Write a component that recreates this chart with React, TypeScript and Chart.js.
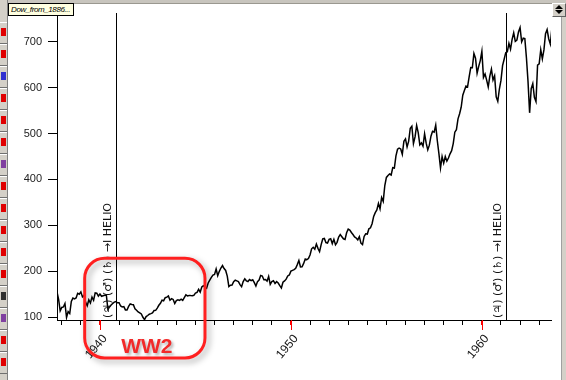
import React, { useEffect, useRef } from "react";
import { Chart, registerables } from "chart.js";

Chart.register(...registerables);

// ---- data ----
// Dow Jones Industrial monthly closes, Sep 1937 .. Aug 1963
const START_YEAR = 1937;
const START_MONTH = 9; // September (end-of-month dates)
const dowMonthlyClose = [
  // 1937 Sep-Dec
  154.6, 138.6, 113.5, 120.9,
  // 1938
  121.9, 129.6, 99.0, 111.7, 107.7, 133.9, 141.2, 139.3, 141.5, 151.7, 149.8, 154.8,
  // 1939
  143.8, 147.3, 131.8, 124.5, 137.4, 130.6, 143.3, 136.6, 152.5, 151.9, 145.7, 150.0,
  // 1940
  145.3, 146.5, 147.5, 148.4, 116.2, 121.9, 126.1, 129.6, 132.6, 133.8, 131.0, 131.1,
  // 1941
  124.1, 122.0, 122.7, 115.5, 115.3, 123.1, 128.8, 127.4, 126.8, 117.8, 114.7, 111.0,
  // 1942
  109.1, 106.6, 99.5, 94.4, 100.9, 103.3, 106.2, 107.5, 109.1, 114.1, 114.5, 119.4,
  // 1943
  125.6, 130.0, 136.6, 135.5, 142.1, 143.4, 145.8, 136.6, 140.1, 138.3, 129.6, 135.9,
  // 1944
  137.4, 136.3, 138.8, 136.2, 142.2, 148.4, 146.1, 147.0, 146.7, 146.5, 147.3, 152.3,
  // 1945
  153.7, 160.4, 154.4, 165.4, 168.3, 165.3, 162.9, 174.3, 180.5, 186.6, 191.5, 192.9,
  // 1946
  204.7, 190.1, 199.6, 206.8, 212.3, 205.6, 201.6, 189.2, 166.4, 169.2, 169.8, 177.2,
  // 1947
  180.4, 178.9, 177.2, 170.6, 166.3, 177.3, 183.2, 178.9, 177.5, 181.8, 179.4, 181.2,
  // 1948
  175.1, 167.4, 177.2, 180.5, 190.7, 189.5, 181.3, 181.7, 178.3, 188.6, 171.2, 177.3,
  // 1949
  179.1, 173.1, 177.1, 174.2, 168.4, 163.4, 175.9, 178.7, 182.5, 189.5, 191.6, 200.1,
  // 1950
  201.8, 203.4, 206.1, 214.3, 223.4, 209.1, 209.4, 216.9, 226.4, 225.0, 227.6, 235.4,
  // 1951
  248.8, 252.1, 247.9, 259.1, 249.7, 242.6, 257.9, 270.3, 271.2, 262.4, 261.3, 269.2,
  // 1952
  270.7, 260.1, 269.5, 257.6, 262.9, 274.3, 279.6, 275.0, 270.6, 269.2, 283.7, 291.9,
  // 1953
  289.8, 284.3, 279.9, 274.8, 272.3, 268.3, 275.4, 261.2, 258.0, 275.8, 281.4, 280.9,
  // 1954
  292.4, 294.5, 303.5, 319.3, 327.5, 333.5, 347.9, 335.8, 360.5, 352.1, 386.8, 404.4,
  // 1955
  408.8, 411.9, 409.7, 425.7, 424.9, 451.4, 465.9, 468.2, 466.6, 454.9, 483.3, 488.4,
  // 1956
  470.7, 483.7, 511.8, 516.1, 478.1, 492.8, 517.8, 502.0, 475.3, 479.9, 472.8, 499.5,
  // 1957
  479.2, 464.6, 474.8, 494.4, 504.9, 503.3, 518.5, 484.4, 456.3, 425.0, 449.9, 435.7,
  // 1958
  450.0, 439.9, 446.8, 455.9, 462.7, 478.2, 503.0, 508.6, 532.1, 543.2, 557.5, 583.7,
  // 1959
  594.0, 603.5, 601.7, 623.8, 643.8, 643.6, 674.9, 664.4, 631.7, 646.6, 659.2, 679.4,
  // 1960
  622.6, 630.1, 616.6, 601.7, 625.5, 640.6, 616.7, 626.0, 580.1, 570.4, 597.2, 615.9,
  // 1961
  648.2, 662.1, 676.6, 678.7, 696.7, 684.0, 705.4, 719.9, 701.2, 703.9, 721.6, 731.1,
  // 1962
  700.0, 708.1, 707.0, 665.3, 613.4, 545.3, 597.9, 609.2, 579.0, 569.8, 649.3, 652.1,
  // 1963
  682.9, 662.9, 682.5, 717.7, 727.0, 706.9, 695.4, 729.3,
];

const yTickValues = [100, 200, 300, 400, 500, 600, 700];
const xDecadeLabels = [1940, 1950, 1960];
const heliocentricDates = [1940.85, 1961.27];
const heliocentricLabel = "(\u2643) (\u2642) (\u2644) \u2192I HELIO";
const ww2Span = [1939.2, 1945.5];
const ww2TopValue = 228;
const ww2Text = "WW2";
const tooltipText = "Dow_from_1886...";

const X_MIN = 1937.75;
const X_MAX = 1963.62;
const Y_MIN = 93.5;
const Y_MAX = 763;

const FONT = '"Liberation Sans", Arial, "DejaVu Sans", sans-serif';

const annotationPlugin = {
  id: "helioAnnotations",
  afterDraw(chart: any) {
    const { ctx, chartArea, scales } = chart;
    const x = scales.x;
    ctx.save();
    // longer red decade ticks
    ctx.strokeStyle = "#ff0000";
    ctx.lineWidth = 1;
    xDecadeLabels.forEach((d) => {
      const px = Math.round(x.getPixelForValue(d)) + 0.5;
      ctx.beginPath();
      ctx.moveTo(px, chartArea.bottom);
      ctx.lineTo(px, chartArea.bottom + 10);
      ctx.stroke();
    });
    // heliocentric event lines + labels
    heliocentricDates.forEach((d) => {
      const px = Math.round(x.getPixelForValue(d)) + 0.5;
      ctx.strokeStyle = "#000";
      ctx.lineWidth = 1;
      ctx.beginPath();
      ctx.moveTo(px, chartArea.top);
      ctx.lineTo(px, chartArea.bottom);
      ctx.stroke();
      ctx.save();
      ctx.translate(px - 8.5, chartArea.bottom - 2);
      ctx.rotate(-Math.PI / 2);
      ctx.font = '11px "DejaVu Sans", sans-serif';
      ctx.fillStyle = "#111";
      ctx.textAlign = "left";
      ctx.textBaseline = "middle";
      ctx.fillText(heliocentricLabel, 0, 0);
      ctx.restore();
    });
    // WW2 rounded box
    const left = x.getPixelForValue(ww2Span[0]);
    const right = x.getPixelForValue(ww2Span[1]);
    const top = scales.y.getPixelForValue(ww2TopValue);
    const bottom = chartArea.bottom + 38;
    const r = 20;
    ctx.save();
    ctx.shadowColor = "rgba(0,0,0,0.35)";
    ctx.shadowBlur = 6;
    ctx.shadowOffsetX = 3;
    ctx.shadowOffsetY = 3;
    ctx.strokeStyle = "#ff1f1f";
    ctx.lineWidth = 3;
    ctx.beginPath();
    ctx.roundRect(left, top, right - left, bottom - top, r);
    ctx.stroke();
    ctx.font = "bold 21px " + FONT;
    ctx.fillStyle = "#f22a2a";
    ctx.textAlign = "center";
    ctx.textBaseline = "alphabetic";
    ctx.shadowBlur = 3;
    ctx.shadowOffsetX = 2;
    ctx.shadowOffsetY = 2;
    ctx.shadowColor = "rgba(0,0,0,0.3)";
    ctx.fillText(ww2Text, (left + right) / 2 + 2, bottom - 5);
    ctx.restore();
    ctx.restore();
  },
};

function DowChart() {
  const ref = useRef<HTMLCanvasElement | null>(null);
  useEffect(() => {
    if (!ref.current) return;
    const points = dowMonthlyClose.map((v, i) => ({
      x: START_YEAR + (START_MONTH + i) / 12,
      y: v,
    }));
    const chart = new Chart(ref.current, {
      type: "line",
      data: {
        datasets: [
          {
            data: points,
            borderColor: "#000",
            borderWidth: 1.5,
            pointRadius: 0,
            tension: 0,
            fill: false,
          },
        ],
      },
      options: {
        responsive: false,
        animation: false,
        parsing: false,
        normalized: true,
        layout: { padding: { top: 13, right: 15, left: 0, bottom: 0 } },
        plugins: {
          legend: { display: false },
          tooltip: { enabled: false },
        },
        scales: {
          x: {
            type: "linear",
            min: X_MIN,
            max: X_MAX,
            grid: {
              drawOnChartArea: false,
              tickLength: 5,
              tickColor: (c: any) =>
                c.tick && xDecadeLabels.includes(Math.round(c.tick.value)) ? "#ff0000" : "#000",
            },
            border: { color: "#000", width: 1 },
            ticks: {
              stepSize: 1,
              autoSkip: false,
              includeBounds: false,
              minRotation: 50,
              maxRotation: 50,
              padding: 7,
              labelOffset: 5,
              color: "#111",
              font: { family: FONT, size: 12 },
              callback: (v: any) => (xDecadeLabels.includes(Math.round(v)) ? String(Math.round(v)) : ""),
            },
            afterFit: (s: any) => {
              s.height = 60;
              s.paddingLeft = 0;
              s.paddingRight = 0;
            },
          },
          y: {
            type: "linear",
            min: Y_MIN,
            max: Y_MAX,
            grid: { drawOnChartArea: false, tickLength: 9, tickColor: "#000" },
            border: { color: "#000", width: 1 },
            afterBuildTicks: (s: any) => {
              s.ticks = yTickValues.map((v) => ({ value: v }));
            },
            ticks: {
              padding: 6,
              color: "#222",
              font: { family: FONT, size: 11 },
            },
            afterFit: (s: any) => {
              s.width = 57;
              s.paddingTop = 0;
              s.paddingBottom = 0;
            },
          },
        },
      },
      plugins: [annotationPlugin],
    });
    return () => chart.destroy();
  }, []);
  return <canvas ref={ref} width={566} height={380} style={{ position: "absolute", left: 0, top: 0 }} />;
}

const toolbarIcons = ["#e00000", "#e00000", "#3030d0", "#e00000", "#e00000", "#e00000", "#8040a0", "#e00000", "#e00000", "#e00000", "#e00000", "#e00000", "#303030", "#8040a0", "#e00000", "#e00000"];

export default function App() {
  return (
    <div style={{ position: "absolute", left: 0, top: 0, width: 566, height: 380, background: "#fff", overflow: "hidden" }}>
      <DowChart />
      {/* top strip */}
      <div style={{ position: "absolute", left: 0, top: 0, width: 566, height: 3, background: "#c8c5be", borderBottom: "1px solid #9a9890" }} />
      {/* left toolbar */}
      <div style={{ position: "absolute", left: 0, top: 0, width: 7, height: 380, background: "#d4d0c8", borderRight: "1px solid #808080" }}>
        {toolbarIcons.map((c, i) => (
          <div key={i} style={{ position: "absolute", left: 0, top: 22 + i * 22, width: 7, height: 20, borderTop: "1px solid #fff", borderBottom: "1px solid #707070" }}>
            <div style={{ position: "absolute", left: 1, top: 5, width: 5, height: 8, background: c }} />
          </div>
        ))}
      </div>
      {/* right scrollbar */}
      <div style={{ position: "absolute", left: 561, top: 16, width: 5, height: 364, background: "#d4d0c8", borderLeft: "1px solid #a0a0a0" }} />
      <div style={{ position: "absolute", left: 552, top: 3, width: 12, height: 12, background: "#d4d0c8", border: "1px solid", borderColor: "#fff #606060 #606060 #fff" }}>
        <div style={{ position: "absolute", left: 2, top: 1, width: 0, height: 0, borderLeft: "4px solid transparent", borderRight: "4px solid transparent", borderBottom: "4px solid #000" }} />
        <div style={{ position: "absolute", left: 2, top: 6, width: 0, height: 0, borderLeft: "4px solid transparent", borderRight: "4px solid transparent", borderTop: "4px solid #000" }} />
      </div>
      {/* tooltip */}
      <div style={{ position: "absolute", left: 8, top: 3, width: 62, height: 11, background: "#ffffe1", border: "1px solid #000", fontFamily: FONT, fontStyle: "italic", fontSize: 8, letterSpacing: "-0.4px", lineHeight: "11px", paddingLeft: 2, whiteSpace: "nowrap", overflow: "hidden", color: "#000" }}>
        {tooltipText}
      </div>
    </div>
  );
}
